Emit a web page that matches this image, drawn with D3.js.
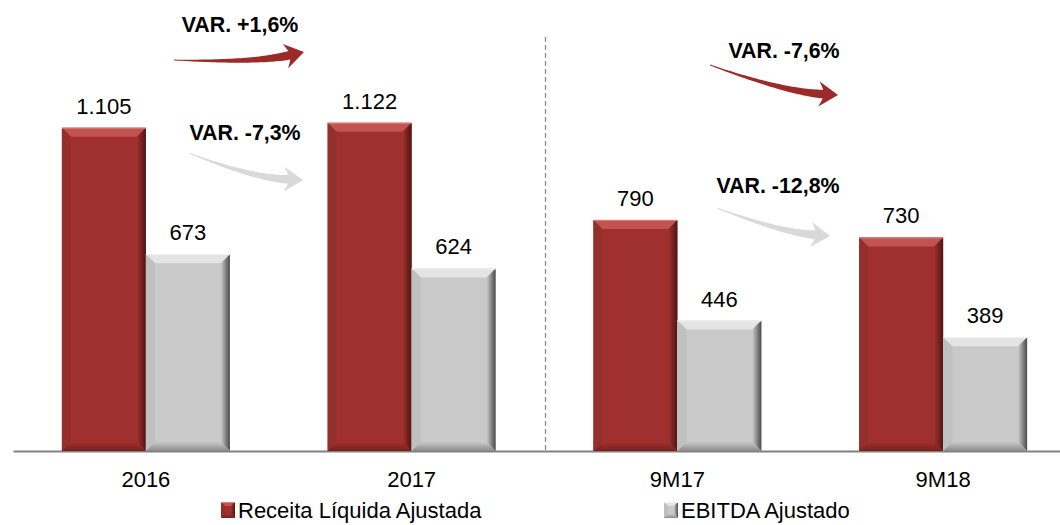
<!DOCTYPE html>
<html>
<head>
<meta charset="utf-8">
<script src="https://cdn.jsdelivr.net/npm/d3@7"></script>
<style>
  body { margin: 0; background: #fff; }
  svg { display: block; }
  text { font-family: "Liberation Sans", Arial, sans-serif; fill: #000; }
</style>
</head>
<body>
<svg id="chart" width="1060" height="525"></svg>
<script>
// data
var periods = ['2016', '2017', '9M17', '9M18'];
var receita = [1105, 1122, 790, 730];
var ebitda = [673, 624, 446, 389];
var seriesNames = ['Receita Líquida Ajustada', 'EBITDA Ajustado'];
var varLabels = ['VAR. +1,6%', 'VAR. -7,3%', 'VAR. -7,6%', 'VAR. -12,8%'];

var svg = d3.select('#chart');
const W = 1060, H = 525;
const base = 451;

const x = d3.scaleBand().domain(periods).range([13, 1076])
  .paddingInner(0.368).paddingOuter(0.184);
const xs = d3.scaleBand().domain([0, 1]).range([0, x.bandwidth()]);
const y = d3.scaleLinear().domain([0, 1200]).range([base, 100]);

// colours for the bevelled bars
const pal = [
  { main: '#a0302d', top: '#c4524e', left: '#93302c', right: '#4e1614', bottom: '#76201e', edge: '#d8807c' },
  { main: '#c9c9c9', top: '#e4e4e4', left: '#c0c0c0', right: '#4a4a4a', bottom: '#8a8a8a', edge: '#f2f2f2' }
];

var defs = svg.append('defs');
pal.forEach(function(p, i) {
  var g = defs.append('linearGradient').attr('id', 'rg' + i).attr('x1', 0).attr('x2', 1).attr('y1', 0).attr('y2', 0);
  g.append('stop').attr('offset', 0).attr('stop-color', p.main);
  g.append('stop').attr('offset', 1).attr('stop-color', p.right);
  var b = defs.append('linearGradient').attr('id', 'bg' + i).attr('x1', 0).attr('x2', 0).attr('y1', 0).attr('y2', 1);
  b.append('stop').attr('offset', 0).attr('stop-color', p.main);
  b.append('stop').attr('offset', 1).attr('stop-color', p.bottom);
});

function bevel(g, x0, y0, w, h, s, bv) {
  var p = pal[s];
  var x1 = x0 + w, y1 = y0 + h;
  bv = Math.min(bv, w / 2, h / 2);
  g.append('rect').attr('x', x0).attr('y', y0).attr('width', w).attr('height', h).attr('fill', p.main);
  var poly = function(pts, fill) {
    g.append('polygon').attr('points', pts.map(function(d) { return d.join(','); }).join(' ')).attr('fill', fill);
  };
  poly([[x0, y0], [x1, y0], [x1 - bv, y0 + bv], [x0 + bv, y0 + bv]], p.top);
  poly([[x0, y0], [x0 + bv, y0 + bv], [x0 + bv, y1 - bv], [x0, y1]], p.left);
  poly([[x1, y0], [x1, y1], [x1 - bv, y1 - bv], [x1 - bv, y0 + bv]], 'url(#rg' + s + ')');
  poly([[x0, y1], [x0 + bv, y1 - bv], [x1 - bv, y1 - bv], [x1, y1]], 'url(#bg' + s + ')');
  g.append('line').attr('x1', x0).attr('x2', x1).attr('y1', y0 + 0.5).attr('y2', y0 + 0.5)
    .attr('stroke', p.edge).attr('stroke-width', 1);
}

// axis line + labels
var axis = svg.append('g').attr('transform', 'translate(0,' + base + ')')
  .call(d3.axisBottom(x).tickSize(0).tickPadding(20));
axis.select('.domain').attr('stroke', '#808080').attr('stroke-width', 2);
axis.selectAll('text').style('font-size', '22px').style('font-family', '"Liberation Sans", Arial, sans-serif').attr('fill', '#000');

// dashed divider between years and 9M
svg.append('line')
  .attr('x1', 545.5).attr('x2', 545.5).attr('y1', 37).attr('y2', base)
  .attr('stroke', '#8c8c8c').attr('stroke-width', 1.3).attr('stroke-dasharray', '5,3');

// bars
var rows = periods.map(function(p, i) { return { p: p, v: [receita[i], ebitda[i]] }; });
var bars = svg.append('g');
rows.forEach(function(r) {
  r.v.forEach(function(v, s) {
    var bx = x(r.p) + xs(s);
    bevel(bars, bx, y(v), xs.bandwidth(), base - y(v), s, 9);
    bars.append('text').attr('x', bx + xs.bandwidth() / 2).attr('y', y(v) - 14)
      .attr('text-anchor', 'middle').style('font-size', '22px')
      .text(d3.format(',')(v).replace(',', '.'));
  });
});

// curved arrows
function arrow(tail, ctrl, tip, color, sw, hw, hl) {
  var dx = tip[0] - ctrl[0], dy = tip[1] - ctrl[1];
  var len = Math.sqrt(dx * dx + dy * dy);
  var d = [dx / len, dy / len];
  var pb = [tip[0] - d[0] * hl, tip[1] - d[1] * hl];
  var N = 40, left = [], right = [];
  for (var i = 0; i <= N; i++) {
    var t = i / N;
    var px = (1 - t) * (1 - t) * tail[0] + 2 * (1 - t) * t * ctrl[0] + t * t * pb[0];
    var py = (1 - t) * (1 - t) * tail[1] + 2 * (1 - t) * t * ctrl[1] + t * t * pb[1];
    var tx = 2 * (1 - t) * (ctrl[0] - tail[0]) + 2 * t * (pb[0] - ctrl[0]);
    var ty = 2 * (1 - t) * (ctrl[1] - tail[1]) + 2 * t * (pb[1] - ctrl[1]);
    var tl = Math.sqrt(tx * tx + ty * ty);
    var nx = -ty / tl, ny = tx / tl;
    var w = 0.4 + t * sw / 2;
    left.push([px + nx * w, py + ny * w]);
    right.push([px - nx * w, py - ny * w]);
  }
  var n = [-d[1], d[0]];
  // barbs swept back a little
  var b1 = [pb[0] + n[0] * hw - d[0] * 4, pb[1] + n[1] * hw - d[1] * 4];
  var b2 = [pb[0] - n[0] * hw - d[0] * 4, pb[1] - n[1] * hw - d[1] * 4];
  var pts = left.concat([b1, tip, b2]).concat(right.reverse());
  svg.append('path').attr('d', d3.line()(pts) + 'Z').attr('fill', color);
}

var arrowSpecs = [
  { lab: varLabels[0], lx: 240, ly: 32, tail: [174, 60], ctrl: [255, 63], tip: [304, 52], c: '#9b2b28' },
  { lab: varLabels[1], lx: 245, ly: 140, tail: [189, 153], ctrl: [252, 178], tip: [303, 180], c: '#d9d9d9' },
  { lab: varLabels[2], lx: 784, ly: 58, tail: [710, 65], ctrl: [785, 92], tip: [838, 95], c: '#9b2b28' },
  { lab: varLabels[3], lx: 778, ly: 193, tail: [717, 208], ctrl: [780, 232], tip: [830, 236], c: '#d9d9d9' }
];
arrowSpecs.forEach(function(a) {
  arrow(a.tail, a.ctrl, a.tip, a.c, 8, 12.5, 15);
  svg.append('text')
    .attr('transform', 'translate(' + a.lx + ',' + a.ly + ') scale(0.93,1)')
    .attr('text-anchor', 'middle').style('font-size', '23px').style('font-weight', 'bold')
    .text(a.lab);
});

// legend
var legX = [221, 664];
seriesNames.forEach(function(name, s) {
  var lg = svg.append('g');
  bevel(lg, legX[s], 502, 14, 16, s, 4);
  lg.append('text').attr('x', legX[s] + 17).attr('y', 518).style('font-size', '22px').text(name);
});
</script>
</body>
</html>
